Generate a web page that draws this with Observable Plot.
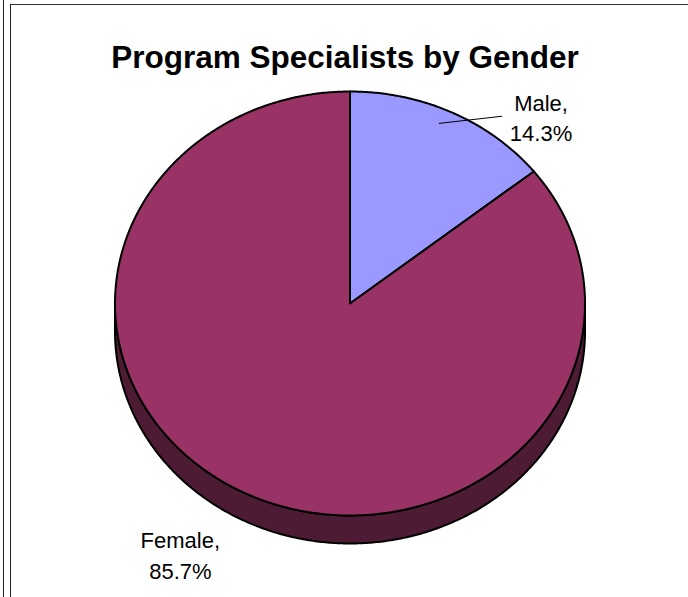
<!DOCTYPE html>
<html>
<head>
<meta charset="utf-8">
<script src="https://cdn.jsdelivr.net/npm/d3@7"></script>
<script src="https://cdn.jsdelivr.net/npm/@observablehq/plot@0.6"></script>
<style>
  html, body { margin: 0; padding: 0; background: #fff; }
  #wrap { position: relative; width: 688px; height: 597px; overflow: hidden; background: #fff; }
  #wrap svg { position: absolute; left: 0; top: 0; }
  .b1 { position: absolute; left: 3px; top: 0; height: 597px; border-left: 1.5px solid #222; }
  .b2 { position: absolute; left: 9.5px; top: 4px; right: 0; bottom: 0; border-left: 1.5px solid #222; border-top: 1.5px solid #333; }
</style>
</head>
<body>
<div id="wrap"><div class="b1"></div><div class="b2"></div></div>
<script>
// ---- data ----
const title = "Program Specialists by Gender";
const categories = ["Male", "Female"];
const values = [14.3, 85.7];
const valueLabels = ["14.3%", "85.7%"];

// ---- styles ----
const faceColors = ["#9999FF", "#993366"];
const sideColors = ["#4D4D80", "#4E1B35"];
const depth = 0.132;           // side height in unit (y) coordinates
const font = "Arial, 'Liberation Sans', sans-serif";

const arcs = d3.pie().sort(null).value(d => d)(values);
const step = Math.PI / 360;

function arcPts(a0, a1, off = 0) {
  const n = Math.max(2, Math.ceil((a1 - a0) / step));
  return d3.range(n + 1).map(i => {
    const t = a0 + (a1 - a0) * i / n;
    return {u: Math.sin(t), v: Math.cos(t) - off};
  });
}

// top faces
const faces = [];
arcs.forEach((a, i) => {
  const pts = [{u: 0, v: 0}, ...arcPts(a.startAngle, a.endAngle), {u: 0, v: 0}];
  pts.forEach(p => faces.push({...p, key: categories[i], i}));
});

// visible sides (front half: PI/2 .. 3PI/2)
const sides = [];
arcs.forEach((a, i) => {
  const s = Math.max(a.startAngle, Math.PI / 2), e = Math.min(a.endAngle, 3 * Math.PI / 2);
  if (e <= s) return;
  const top = arcPts(s, e), bot = arcPts(s, e, depth).reverse();
  [...top, ...bot, top[0]].forEach(p => sides.push({...p, key: categories[i], i}));
});

// labels anchored at each slice's mid-angle on the rim
const labels = arcs.map((a, i) => {
  const m = (a.startAngle + a.endAngle) / 2;
  return {u: Math.sin(m), v: Math.cos(m), text: categories[i] + ",\n" + valueLabels[i], i, m};
});
const male = labels[0];
const leader = [{
  x1: 0.93 * Math.sin(male.m - 0.03), y1: 0.93 * Math.cos(male.m - 0.03),
  x2: male.u + 50 / 235, y2: male.v - 3.7 / 212
}];

const chart = Plot.plot({
  width: 688,
  height: 597,
  margin: 0,
  x: {domain: [-1, 1], range: [114.5, 584.5], axis: null},
  y: {domain: [-1, 1], range: [515, 91], axis: null},
  style: {background: "transparent", fontFamily: font},
  marks: [
    Plot.line(sides, {x: "u", y: "v", z: "key", fill: d => sideColors[d.i], stroke: "#000", strokeWidth: 2, curve: "linear"}),
    Plot.line(faces, {x: "u", y: "v", z: "key", fill: d => faceColors[d.i], stroke: "#000", strokeWidth: 2, strokeLinejoin: "round", curve: "linear"}),
    Plot.link(leader, {x1: "x1", y1: "y1", x2: "x2", y2: "y2", stroke: "#000", strokeWidth: 1}),
    Plot.text(labels.filter(d => d.i === 0), {x: "u", y: "v", text: "text", dx: 89, dy: 3.5, fontSize: 22, lineHeight: 1.4, textAnchor: "middle", lineAnchor: "middle", fill: "#000", fontFamily: font}),
    Plot.text(labels.filter(d => d.i === 1), {x: "u", y: "v", text: "text", dx: -67.6, dy: 59, fontSize: 22, lineHeight: 1.4, textAnchor: "middle", lineAnchor: "middle", fill: "#000", fontFamily: font}),
    Plot.text([title], {frameAnchor: "top", text: d => d, dx: 0.5, dy: 57, fontSize: 31.5, fontWeight: "bold", textAnchor: "middle", lineAnchor: "middle", fill: "#000", fontFamily: font})
  ]
});
document.getElementById("wrap").appendChild(chart);
</script>
</body>
</html>
